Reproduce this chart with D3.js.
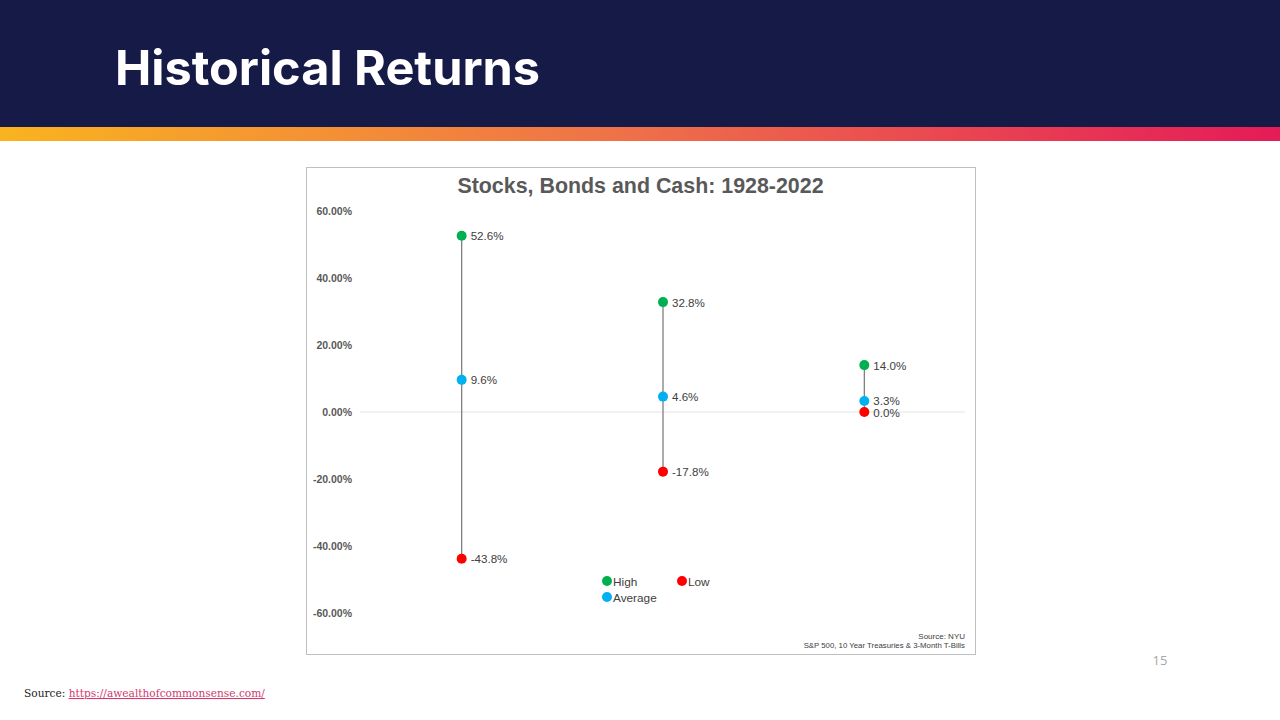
<!DOCTYPE html>
<html><head><meta charset="utf-8">
<script src="https://cdn.jsdelivr.net/npm/d3@7"></script>
<style>body{margin:0;background:#fff;}svg{display:block;}</style>
</head><body>
<svg id="c" width="1280" height="720"></svg>
<script>
const categories = ["Stocks", "Bonds", "Cash"];
const highValues = [52.6, 32.8, 14.0];
const averageValues = [9.6, 4.6, 3.3];
const lowValues = [-43.8, -17.8, 0.0];
const yTicks = [60, 40, 20, 0, -20, -40, -60];
const legendItems = [
  {name: "High", color: "#00b050"},
  {name: "Low", color: "#ff0000"},
  {name: "Average", color: "#00b0f0"}
];

const svg = d3.select("#c");

// Header
svg.append("rect").attr("x",0).attr("y",0).attr("width",1280).attr("height",128).attr("fill","#161a47");
const defs = svg.append("defs");
const g = defs.append("linearGradient").attr("id","bar").attr("x1","0").attr("x2","1");
g.append("stop").attr("offset","0").attr("stop-color","#f9b31f");
g.append("stop").attr("offset","0.5").attr("stop-color","#ee6f4a");
g.append("stop").attr("offset","1").attr("stop-color","#e41b58");
svg.append("rect").attr("x",0).attr("y",127).attr("width",1280).attr("height",14).attr("fill","url(#bar)");
svg.append("text").attr("x",115).attr("y",85).attr("fill","#ffffff")
  .attr("font-family","Inter, 'Open Sans', sans-serif").attr("font-weight",700).attr("font-size",48)
  .attr("textLength",425).attr("lengthAdjust","spacingAndGlyphs")
  .text("Historical Returns");

// Chart frame
svg.append("rect").attr("x",306.5).attr("y",167.5).attr("width",669).attr("height",487)
  .attr("fill","#fff").attr("stroke","#bfbfbf").attr("stroke-width",1);

svg.append("text").attr("x",640.5).attr("y",193).attr("text-anchor","middle")
  .attr("font-family","'Liberation Sans', Arial, sans-serif").attr("font-weight",700).attr("font-size",21.4)
  .attr("fill","#595959").text("Stocks, Bonds and Cash: 1928-2022");

const y = d3.scaleLinear().domain([-60, 60]).range([613, 211]);
const x = d3.scaleBand().domain(categories).range([361, 965]);
const cx = c => x(c) + x.bandwidth()/2;

// Y axis labels
const yAxis = d3.axisLeft(y).tickValues(yTicks).tickSize(0).tickPadding(0)
  .tickFormat(d => d.toFixed(2) + "%");
const ya = svg.append("g").attr("transform","translate(352,0)").call(yAxis);
ya.select(".domain").remove();
ya.selectAll("text").attr("font-family","'Liberation Sans', Arial, sans-serif").attr("font-weight",700)
  .attr("font-size",10.5).attr("fill","#595959");

// zero line
svg.append("line").attr("x1",360).attr("x2",965).attr("y1",y(0)).attr("y2",y(0))
  .attr("stroke","#e6e6e6").attr("stroke-width",1.2);

// data
const data = categories.map((c,i)=>({c, high:highValues[i], avg:averageValues[i], low:lowValues[i]}));
svg.append("g").selectAll("line").data(data).join("line")
  .attr("x1",d=>cx(d.c)).attr("x2",d=>cx(d.c)).attr("y1",d=>y(d.high)).attr("y2",d=>y(d.low))
  .attr("stroke","#7f7f7f").attr("stroke-width",1.3);

const series = [
  {key:"high", color:"#00b050"},
  {key:"avg", color:"#00b0f0"},
  {key:"low", color:"#ff0000"}
];
series.forEach(s=>{
  const gg = svg.append("g");
  gg.selectAll("circle").data(data).join("circle")
    .attr("cx",d=>cx(d.c)).attr("cy",d=>y(d[s.key])).attr("r",5).attr("fill",s.color);
  gg.selectAll("text").data(data).join("text")
    .attr("x",d=>cx(d.c)+9).attr("y",d=>y(d[s.key])+4.5)
    .attr("font-family","'Liberation Sans', Arial, sans-serif").attr("font-size",11.6).attr("fill","#404040")
    .text(d=>d[s.key].toFixed(1)+"%");
});

// legend
const legPos = [[607,581],[682,581],[607,597]];
legendItems.forEach((l,i)=>{
  svg.append("circle").attr("cx",legPos[i][0]).attr("cy",legPos[i][1]).attr("r",5).attr("fill",l.color);
  svg.append("text").attr("x",legPos[i][0]+6).attr("y",legPos[i][1]+4.5)
    .attr("font-family","'Liberation Sans', Arial, sans-serif").attr("font-size",11.8).attr("fill","#404040")
    .text(l.name);
});

// chart source
svg.append("text").attr("x",965).attr("y",639).attr("text-anchor","end")
  .attr("font-family","'Liberation Sans', Arial, sans-serif").attr("font-size",8).attr("fill","#404040")
  .text("Source: NYU");
svg.append("text").attr("x",965).attr("y",648).attr("text-anchor","end")
  .attr("font-family","'Liberation Sans', Arial, sans-serif").attr("font-size",7.8).attr("fill","#404040")
  .text("S&P 500, 10 Year Treasuries & 3-Month T-Bills");

// page number
svg.append("text").attr("x",1160).attr("y",665).attr("text-anchor","middle")
  .attr("font-family","'Open Sans', sans-serif").attr("font-size",13).attr("fill","#a6a6a6").text("15");

// footer
const ft = svg.append("text").attr("x",24).attr("y",697)
  .attr("font-family","'DejaVu Serif', 'Liberation Serif', serif").attr("font-size",10.6).attr("fill","#222");
ft.append("tspan").text("Source: ");
ft.append("tspan").attr("fill","#d23a6e").attr("text-decoration","underline").text("https://awealthofcommonsense.com/");
</script>
</body></html>
